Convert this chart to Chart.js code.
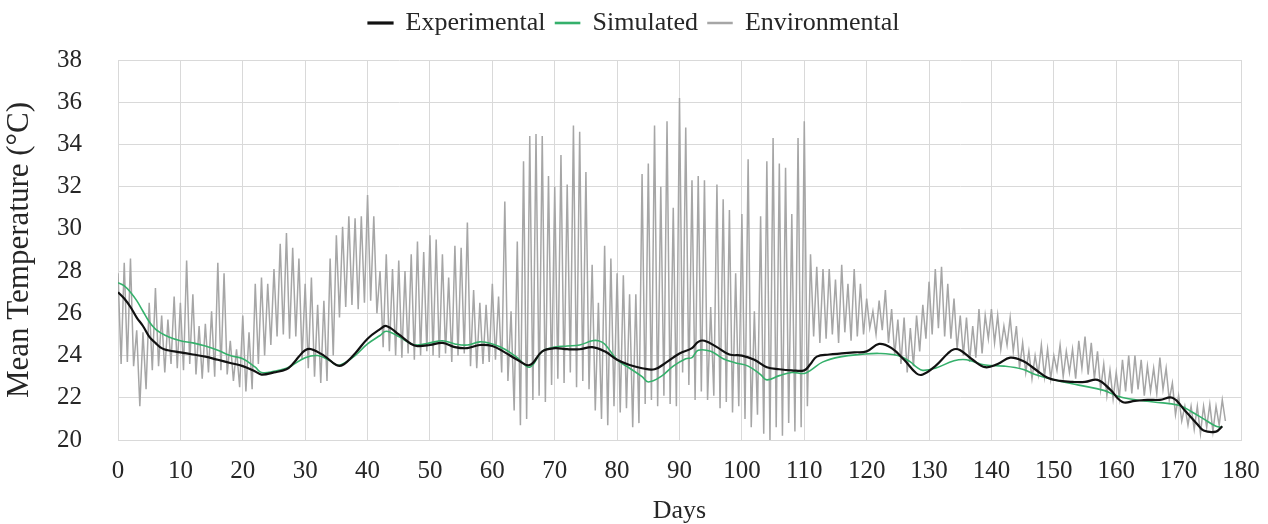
<!DOCTYPE html>
<html>
<head>
<meta charset="utf-8">
<script src="https://cdn.jsdelivr.net/npm/chart.js@4"></script>
<style>
  html, body { margin: 0; padding: 0; background: #fff; }
  #wrap { width: 1268px; height: 524px; }
</style>
</head>
<body>
<div id="wrap"><canvas id="tempChart" width="1268" height="524"></canvas></div>
<script>
// measured series (days / deg C)
const expDays = [0, 1, 2, 3, 4, 5, 6, 7, 8, 10, 12, 14, 16, 18, 20, 22, 23, 25, 27, 28, 29, 30, 31, 33, 35, 36, 38, 40, 42, 43, 45, 47, 48, 50, 52, 54, 56, 58, 60, 62, 64, 66, 68, 70, 72, 74, 76, 78, 80, 82, 84, 86, 88, 90, 92, 93, 94, 96, 98, 100, 102, 104, 106, 108, 110, 111, 112, 114, 116, 118, 120, 122, 124, 126, 128, 129, 131, 133, 134, 135, 137, 139, 141, 143, 145, 147, 149, 151, 153, 155, 157, 159, 161, 163, 165, 167, 169, 171, 173, 174, 176, 177];
const expTemp = [27.0, 26.7, 26.3, 25.8, 25.4, 24.9, 24.6, 24.35, 24.25, 24.15, 24.05, 23.95, 23.8, 23.65, 23.5, 23.25, 23.1, 23.2, 23.35, 23.6, 23.95, 24.25, 24.3, 24.0, 23.55, 23.55, 24.1, 24.8, 25.25, 25.4, 25.0, 24.55, 24.45, 24.5, 24.6, 24.4, 24.35, 24.5, 24.45, 24.15, 23.8, 23.55, 24.2, 24.35, 24.3, 24.3, 24.4, 24.2, 23.8, 23.55, 23.4, 23.35, 23.7, 24.1, 24.35, 24.65, 24.7, 24.4, 24.05, 24.0, 23.8, 23.45, 23.35, 23.3, 23.3, 23.6, 23.95, 24.05, 24.1, 24.15, 24.2, 24.55, 24.35, 23.8, 23.15, 23.1, 23.5, 24.1, 24.3, 24.25, 23.8, 23.45, 23.6, 23.9, 23.75, 23.35, 22.95, 22.8, 22.75, 22.75, 22.85, 22.4, 21.8, 21.85, 21.9, 21.9, 22.0, 21.4, 20.75, 20.45, 20.4, 20.65];

const simDays = [0, 1, 2, 3, 4, 5, 6, 7, 8, 10, 12, 14, 16, 18, 20, 22, 23, 25, 27, 28, 30, 32, 34, 35, 36, 38, 40, 42, 43, 45, 47, 48, 50, 52, 54, 56, 58, 60, 62, 64, 66, 68, 70, 72, 74, 76, 77, 78, 80, 82, 84, 85, 87, 89, 91, 92, 93, 95, 97, 99, 101, 103, 104, 106, 108, 110, 111, 113, 116, 119, 122, 125, 127, 128, 129, 131, 134, 136, 139, 142, 145, 147, 150, 154, 158, 160, 162, 166, 170, 172, 174, 176, 177];
const simTemp = [27.45, 27.3, 27.0, 26.6, 26.1, 25.6, 25.25, 25.05, 24.9, 24.7, 24.6, 24.45, 24.25, 24.0, 23.85, 23.45, 23.2, 23.25, 23.4, 23.55, 23.9, 24.0, 23.75, 23.55, 23.6, 24.0, 24.55, 24.95, 25.15, 24.9, 24.55, 24.5, 24.6, 24.7, 24.55, 24.5, 24.65, 24.55, 24.3, 23.9, 23.45, 24.2, 24.4, 24.45, 24.5, 24.7, 24.7, 24.55, 23.8, 23.4, 23.0, 22.75, 23.0, 23.5, 23.85, 23.9, 24.25, 24.2, 23.85, 23.65, 23.5, 23.1, 22.85, 23.05, 23.2, 23.15, 23.3, 23.7, 23.95, 24.05, 24.1, 24.0, 23.7, 23.45, 23.3, 23.4, 23.75, 23.8, 23.55, 23.5, 23.35, 23.1, 22.85, 22.6, 22.35, 22.1, 21.95, 21.8, 21.65, 21.35, 21.0, 20.65, 20.6];

// environmental: daily high (at day d) and low (half a day later), days 0..177
const envMax = [27.9, 28.4, 28.6, 25.2, 25.1, 26.5, 27.2, 25.9, 25.7, 26.8,
  26.5, 28.5, 26.9, 25.4, 25.5, 26.1, 28.4, 27.9, 24.7, 24.3,
  25.9, 25.1, 27.4, 27.7, 27.4, 28.1, 29.3, 29.8, 29.1, 28.6,
  27.4, 27.7, 26.4, 26.6, 28.6, 29.7, 30.1, 30.6, 30.5, 30.6,
  31.6, 30.6, 28.0, 28.8, 28.1, 28.5, 28.0, 28.8, 29.4, 28.9,
  29.7, 29.5, 28.8, 27.7, 29.2, 29.1, 30.3, 27.1, 26.5, 26.4,
  27.4, 26.8, 31.3, 26.1, 29.4, 33.2, 34.4, 34.5, 34.4, 32.5,
  32.0, 33.5, 32.1, 34.9, 34.6, 32.7, 28.3, 26.5, 29.2, 28.6,
  27.9, 27.8, 26.9, 26.9, 32.6, 33.1, 34.9, 32.0, 35.1, 31.0,
  36.2, 34.8, 32.3, 32.5, 32.3, 26.3, 32.1, 31.4, 30.9, 27.9,
  30.7, 33.3, 26.1, 30.6, 33.2, 34.3, 33.1, 32.9, 30.7, 34.3,
  35.1, 28.8, 28.2, 28.1, 28.1, 27.6, 28.3, 27.4, 28.1, 27.4,
  26.7, 26.1, 26.6, 27.1, 26.2, 25.7, 25.8, 25.3, 25.9, 26.4,
  27.5, 28.1, 28.2, 27.4, 26.7, 25.9, 25.8, 25.4, 26.2, 25.9,
  26.2, 25.9, 25.4, 25.8, 25.4, 24.6, 24.2, 24.0, 24.5, 24.3,
  24.0, 24.5, 24.2, 24.3, 24.7, 24.9, 24.6, 24.2, 23.6, 23.3,
  23.2, 23.8, 24.0, 24.0, 23.8, 23.5, 23.4, 23.9, 23.4, 22.7,
  22.1, 21.6, 21.6, 21.6, 21.6, 21.7, 21.6, 21.9];
const envMin = [23.6, 23.7, 23.5, 21.6, 22.4, 23.3, 23.5, 23.2, 23.6, 23.4,
  23.3, 23.6, 23.1, 22.9, 23.2, 23.0, 23.3, 23.1, 22.8, 22.5,
  22.3, 22.4, 23.6, 24.0, 24.5, 24.9, 25.0, 24.8, 24.9, 23.8,
  23.4, 23.0, 22.7, 22.8, 24.0, 25.8, 26.3, 26.4, 26.2, 26.5,
  26.6, 26.0, 24.4, 24.2, 24.0, 23.9, 24.1, 23.8, 24.0, 24.2,
  24.0, 23.9, 24.1, 23.7, 24.0, 24.1, 23.5, 23.4, 23.6, 23.7,
  23.8, 23.2, 22.8, 21.4, 20.7, 21.0, 21.9, 22.1, 21.8, 22.6,
  22.9, 22.7, 23.2, 22.5, 22.8, 22.4, 21.4, 21.0, 20.7, 21.6,
  21.3, 21.5, 20.6, 20.8, 21.7, 21.9, 21.6, 22.1, 21.7, 21.6,
  23.2, 22.6, 21.9, 22.3, 21.9, 22.1, 21.5, 21.8, 21.3, 21.6,
  21.0, 20.6, 21.2, 20.3, 20.0, 20.6, 20.2, 20.8, 20.4, 20.6,
  21.6, 24.9, 24.6, 24.8, 25.0, 24.6, 25.1, 24.7, 24.9, 25.0,
  25.3, 25.0, 25.2, 24.6, 24.0, 23.6, 23.2, 23.5, 24.2, 24.8,
  25.0, 25.3, 24.9, 24.8, 24.3, 24.0, 23.7, 23.9, 24.1, 24.8,
  24.6, 24.3, 24.5, 24.2, 23.4, 23.2, 22.9, 23.1, 23.0, 22.9,
  23.3, 23.0, 23.2, 22.9, 23.4, 23.1, 22.9, 22.4, 22.1, 21.95,
  22.0, 22.3, 22.2, 22.4, 22.1, 22.3, 22.2, 22.4, 21.9, 21.2,
  20.9, 20.7, 20.5, 20.3, 20.6, 20.4, 20.7, 20.9];

const xTicks = { min: 0, max: 180, step: 10 };
const yTicks = { min: 20, max: 38, step: 2 };

function toPoints(days, vals) {
  return days.map((d, i) => ({ x: d, y: vals[i] }));
}

function envPoints() {
  const pts = [];
  envMax.forEach((v, d) => {
    pts.push({ x: d, y: v });
    pts.push({ x: d + 0.5, y: envMin[d] });
  });
  return pts;
}

// push the plot area down a bit below the legend
const legendGap = {
  id: 'legendGap',
  beforeInit(chart) {
    const fit = chart.legend.fit;
    chart.legend.fit = function () {
      fit.bind(chart.legend)();
      this.height += 14;
    };
  }
};

function createTempChart() {
  const ctx = document.getElementById('tempChart').getContext('2d');
  const serif = '"Liberation Serif", "Times New Roman", serif';
  const grid = '#d9d9d9';

  new Chart(ctx, {
    type: 'line',
    data: {
      datasets: [{
        label: 'Experimental',
        data: toPoints(expDays, expTemp),
        borderColor: '#111111',
        backgroundColor: '#111111',
        borderWidth: 2.2,
        pointRadius: 0,
        tension: 0.4
      }, {
        label: 'Simulated',
        data: toPoints(simDays, simTemp),
        borderColor: '#35b06b',
        backgroundColor: '#35b06b',
        borderWidth: 1.6,
        pointRadius: 0,
        tension: 0.4
      }, {
        label: 'Environmental',
        data: envPoints(),
        borderColor: '#a6a6a6',
        backgroundColor: '#a6a6a6',
        borderWidth: 1.5,
        pointRadius: 0,
        tension: 0
      }]
    },
    options: {
      responsive: false,
      animation: false,
      devicePixelRatio: 1,
      layout: { padding: { top: 0, right: 0, bottom: 0, left: 0 } },
      plugins: {
        legend: {
          position: 'top',
          labels: {
            boxWidth: 24,
            boxHeight: 1,
            padding: 10,
            color: '#262626',
            font: { family: serif, size: 26 }
          }
        },
        tooltip: { enabled: false }
      },
      scales: {
        x: {
          type: 'linear',
          min: xTicks.min,
          max: xTicks.max,
          afterFit(scale) {
            scale.height = 84;
            scale.paddingRight = 27;
          },
          grid: { color: grid, drawTicks: false },
          border: { color: grid },
          ticks: {
            stepSize: xTicks.step,
            padding: 16,
            color: '#262626',
            font: { family: serif, size: 25 }
          },
          title: {
            display: true,
            text: 'Days',
            color: '#262626',
            padding: { top: 0, bottom: 0 },
            font: { family: serif, size: 26, lineHeight: 0.95 }
          }
        },
        y: {
          min: yTicks.min,
          max: yTicks.max,
          afterFit(scale) { scale.width = 118; },
          grid: { color: grid, drawTicks: false },
          border: { color: grid },
          ticks: {
            stepSize: yTicks.step,
            padding: 36,
            color: '#262626',
            font: { family: serif, size: 25 }
          },
          title: {
            display: true,
            text: 'Mean Temperature (°C)',
            color: '#262626',
            padding: { top: 3, bottom: 0 },
            font: { family: serif, size: 31, lineHeight: 1.1 }
          }
        }
      }
    },
    plugins: [legendGap]
  });
}

createTempChart();
</script>
</body>
</html>
